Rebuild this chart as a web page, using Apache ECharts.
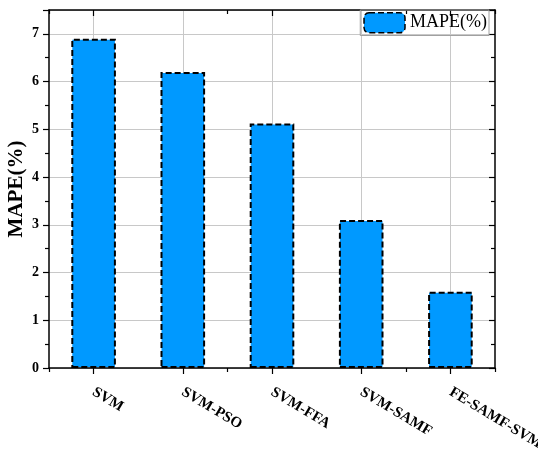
<!DOCTYPE html>
<html>
<head>
<meta charset="utf-8">
<script src="https://cdn.jsdelivr.net/npm/echarts@6/dist/echarts.min.js"></script>
<style>
  html, body { margin: 0; padding: 0; background: #fff; }
  #chart { width: 538px; height: 449px; }
</style>
</head>
<body>
<div id="chart"></div>
<script>
// Forecast error of each model
const models = ['SVM', 'SVM-PSO', 'SVM-FFA', 'SVM-SAMF', 'FE-SAMF-SVM'];
const mape = [6.9, 6.2, 5.12, 3.1, 1.6];
const seriesName = 'MAPE(%)';
const yTitle = 'MAPE(%)';

const serif = '"Liberation Serif", "Times New Roman", serif';
const barBlue = '#0099ff';
const grey = '#c8c8c8';

const chart = echarts.init(document.getElementById('chart'));

// hidden category axes used only for the minor ticks between categories
function boundaryTicks(position, inside) {
  return {
    type: 'category', data: models, position: position,
    axisLine: { show: false },
    axisLabel: { show: false },
    axisTick: { show: true, inside: inside, length: 4, lineStyle: { color: '#000', width: 1.2 } },
    splitLine: { show: false }
  };
}

chart.setOption({
  animation: false,
  grid: { left: 49, right: 43, top: 10, bottom: 81, containLabel: false, outerBoundsMode: 'none' },
  legend: {
    right: 49, top: 10,
    padding: [2, 2, 2, 3],
    itemWidth: 41, itemHeight: 20, itemGap: 4,
    borderColor: '#a0a0a0', borderWidth: 1,
    textStyle: { fontFamily: serif, fontSize: 18, color: '#000' },
    data: [{ name: seriesName, itemStyle: { color: barBlue, borderColor: '#000', borderWidth: 1.5, borderType: [6, 3] } }]
  },
  xAxis: [
    {
      type: 'category', data: models, position: 'bottom',
      axisLine: { show: true, lineStyle: { color: '#000', width: 1.5 } },
      axisTick: { show: true, alignWithLabel: true, length: 6, lineStyle: { color: '#000', width: 1.2 } },
      axisLabel: {
        rotate: -31, margin: 23,
        fontFamily: serif, fontWeight: 'bold', fontSize: 15, color: '#000'
      },
      splitLine: { show: true, alignWithLabel: true, lineStyle: { color: grey, width: 1 } }
    },
    boundaryTicks('bottom', false),
    {
      type: 'category', data: models, position: 'top',
      axisLine: { show: true, lineStyle: { color: '#000', width: 1.5 } },
      axisTick: { show: true, inside: true, alignWithLabel: true, length: 6, lineStyle: { color: '#000', width: 1.2 } },
      axisLabel: { show: false },
      splitLine: { show: false }
    },
    boundaryTicks('top', true)
  ],
  yAxis: [
    {
      type: 'value', min: 0, max: 7.5, interval: 1, position: 'left',
      name: yTitle, nameLocation: 'middle', nameGap: 22, nameMoveOverlap: false,
      nameTextStyle: { fontFamily: serif, fontWeight: 'bold', fontSize: 21, color: '#000' },
      axisLine: { show: true, lineStyle: { color: '#000', width: 1.5 } },
      axisTick: { show: true, length: 6, lineStyle: { color: '#000', width: 1.2 } },
      minorTick: { show: true, splitNumber: 2, length: 4, lineStyle: { color: '#000', width: 1.2 } },
      axisLabel: {
        margin: 10, fontFamily: serif, fontWeight: 'bold', fontSize: 14, color: '#000',
        formatter: v => (Number.isInteger(v) ? String(v) : '')
      },
      splitLine: { show: true, lineStyle: { color: grey, width: 1 } }
    },
    {
      type: 'value', min: 0, max: 7.5, interval: 1, position: 'right',
      axisLine: { show: true, lineStyle: { color: '#000', width: 1.5 } },
      axisTick: { show: true, inside: true, length: 6, lineStyle: { color: '#000', width: 1.2 } },
      minorTick: { show: true, splitNumber: 2, length: 4, lineStyle: { color: '#000', width: 1.2 } },
      axisLabel: { show: false },
      splitLine: { show: false }
    }
  ],
  series: [{
    name: seriesName,
    type: 'bar',
    xAxisIndex: 0, yAxisIndex: 0,
    data: mape,
    barWidth: '50%',
    itemStyle: { color: barBlue, borderColor: '#000', borderWidth: 2, borderType: [6, 3] }
  }]
});
</script>
</body>
</html>
